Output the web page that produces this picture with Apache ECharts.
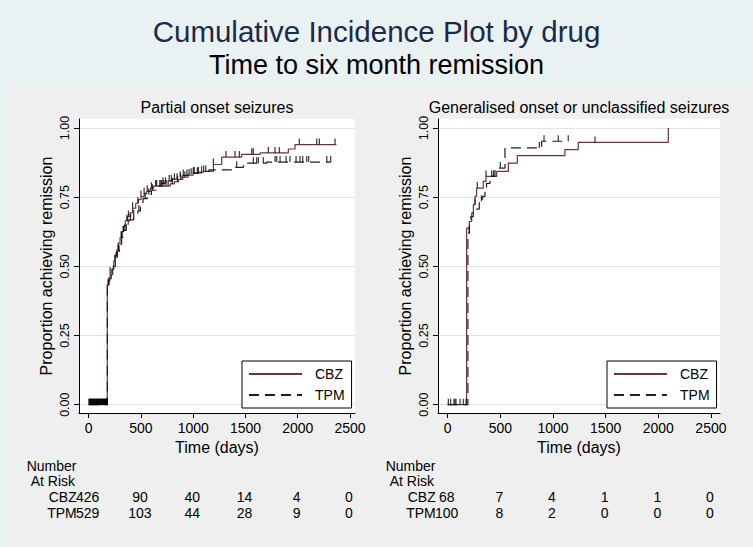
<!DOCTYPE html>
<html><head><meta charset="utf-8">
<script src="https://cdn.jsdelivr.net/npm/echarts@6/dist/echarts.min.js"></script>
<style>html,body{margin:0;padding:0;background:#eaf1f3}#c{width:753px;height:547px}</style>
</head><body><div id="c"></div>
<script>
// ---------------- data ----------------
const mainTitle = 'Cumulative Incidence Plot by drug';
const subTitle = 'Time to six month remission';
const panelTitles = ['Partial onset seizures', 'Generalised onset or unclassified seizures'];
const groups = ['CBZ', 'TPM'];
const xTicks = [0, 500, 1000, 1500, 2000, 2500];
const yTicks = [0, 0.25, 0.5, 0.75, 1];
const xTitle = 'Time (days)';
const yTitle = 'Proportion achieving remission';

// Partial onset seizures: step curves [day, proportion]
const partialCBZ = [[0,0],[178,0],[178,0.434],[195,0.46],[205,0.476],[220,0.49],[240,0.52],[255,0.54],[268,0.56],[285,0.585],[300,0.605],[315,0.625],[332,0.645],[350,0.665],[370,0.68],[395,0.693],[420,0.71],[450,0.728],[475,0.741],[500,0.752],[530,0.762],[555,0.771],[590,0.782],[620,0.79],[780,0.798],[820,0.806],[860,0.814],[900,0.822],[950,0.83],[1000,0.836],[1050,0.84],[1100,0.843],[1193,0.868],[1273,0.895],[1464,0.905],[1640,0.91],[1910,0.924],[1974,0.94],[2370,0.94]];
const partialTPM = [[0,0],[178,0],[178,0.43],[200,0.455],[215,0.47],[235,0.5],[255,0.53],[275,0.555],[295,0.58],[315,0.605],[335,0.63],[360,0.65],[390,0.668],[430,0.682],[470,0.7],[495,0.72],[520,0.745],[560,0.76],[600,0.775],[650,0.79],[700,0.8],[750,0.808],[800,0.815],[850,0.822],[900,0.828],[950,0.833],[1000,0.838],[1080,0.843],[1150,0.849],[1368,0.858],[1480,0.873],[1703,0.877],[2316,0.877]];
const partialCBZCensor = [3,11,19,26,35,42,50,57,66,74,81,90,98,105,113,122,130,137,146,154,161,170,176,185,205,250,280,310,330,365,380,420,470,500,530,560,600,640,680,700,720,740,760,800,850,880,920,960,1000,1040,1080,1120,1193,1314,1400,1441,1560,1575,1719,1783,1824,2015,2182,2207,2357];
const partialTPMCensor = [6,15,23,31,40,48,59,68,77,85,93,101,110,118,127,135,143,151,159,168,175,190,230,262,290,320,345,378,400,430,480,540,575,610,650,690,710,735,770,790,820,845,875,905,940,980,1010,1050,1100,1416,1575,1608,1623,1671,1783,1799,1831,1888,1926,1984,2022,2048,2086,2105,2278,2316];

// Generalised onset or unclassified seizures
const generalCBZ = [[0,0],[180,0],[180,0.638],[206,0.662],[228,0.693],[244,0.723],[260,0.753],[275,0.783],[338,0.807],[364,0.825],[465,0.843],[576,0.873],[661,0.9],[1113,0.922],[1240,0.948],[2095,0.948],[2095,1.0]];
const generalTPM = [[0,0],[192,0],[192,0.62],[206,0.657],[220,0.68],[243,0.707],[300,0.735],[332,0.753],[354,0.777],[369,0.8],[402,0.825],[449,0.855],[544,0.928],[892,0.952],[1145,0.952]];
const generalCBZCensor = [6,60,79,148,259,281,364,1399];
const generalTPMCensor = [28,69,117,174,205,320,418,435,500,870,915,1050,1145];

// Number at risk table
const riskTimes = [0, 500, 1000, 1500, 2000, 2500];
const partialRiskCBZ = [426, 90, 40, 14, 4, 0];
const partialRiskTPM = [529, 103, 44, 28, 9, 0];
const generalRiskCBZ = [68, 7, 4, 1, 1, 0];
const generalRiskTPM = [100, 8, 2, 0, 0, 0];

// ---------------- styles ----------------
const FONT = '"Liberation Sans", Arial, sans-serif';
const CBZ_COLOR = '#74303c';
const TPM_COLOR = '#1b1f2e';

function stepAt(curve, t) {
  let y = 0;
  for (const p of curve) { if (p[0] <= t) y = p[1]; else break; }
  return y;
}
function censorPoints(curve, days) { return days.map(d => [d, stepAt(curve, d)]); }

const grids = [
  {left: 79, top: 119, width: 276, height: 294, xmin: -93, xmax: 2548},
  {left: 438, top: 119, width: 282, height: 294, xmin: -92, xmax: 2586}
];

function makeX(i) {
  const g = grids[i];
  return {
    gridIndex: i, type: 'value', min: g.xmin, max: g.xmax,
    axisLine: {show: true, onZero: false, lineStyle: {color: '#000', width: 1}},
    axisTick: {show: true, length: 5, customValues: xTicks, lineStyle: {color: '#000'}},
    axisLabel: {customValues: xTicks, fontSize: 14, fontFamily: FONT, color: '#000', margin: 8,
      formatter: v => String(v)},
    splitLine: {show: false},
    name: xTitle, nameLocation: 'middle', nameGap: 22,
    nameTextStyle: {fontSize: 16, fontFamily: FONT, color: '#000'}
  };
}
function makeY(i) {
  return {
    gridIndex: i, type: 'value', min: -0.03, max: 1.0325,
    axisLine: {show: true, onZero: false, lineStyle: {color: '#000', width: 1}},
    axisTick: {show: true, length: 5, customValues: yTicks, lineStyle: {color: '#000'}},
    axisLabel: {customValues: yTicks, rotate: 90, fontSize: 12.5, fontFamily: FONT, color: '#000', margin: 8,
      formatter: v => v.toFixed(2)},
    splitLine: {show: true, lineStyle: {color: '#e2e2e2', width: 1}},
    name: yTitle, nameLocation: 'middle', nameGap: 25,
    nameTextStyle: {fontSize: 16, fontFamily: FONT, color: '#000'}
  };
}
function lineSeries(name, data, i, dashed) {
  return {
    type: 'line', name, data, xAxisIndex: i, yAxisIndex: i, step: 'end',
    symbol: 'none', silent: true, z: 3,
    lineStyle: {color: dashed ? TPM_COLOR : CBZ_COLOR, width: 1.2, type: dashed ? [10, 6] : 'solid'},
    itemStyle: {color: dashed ? TPM_COLOR : CBZ_COLOR}
  };
}
function censorSeries(data, i) {
  return {
    type: 'scatter', name: 'censored', data, xAxisIndex: i, yAxisIndex: i,
    symbol: 'rect', symbolSize: [1.2, 6], symbolOffset: [0, -3], silent: true, z: 4,
    itemStyle: {color: '#000'}
  };
}
function makeLegend(left) {
  return {
    data: groups, orient: 'vertical', left, top: 361,
    itemWidth: 53, itemHeight: 14, itemGap: 7,
    padding: [6, 7, 6, 6],
    backgroundColor: '#fff', borderColor: '#000', borderWidth: 1, borderRadius: 0,
    itemStyle: {opacity: 0},
    textStyle: {fontSize: 14, fontFamily: FONT, color: '#000', padding: [0, 0, 0, 8]},
    selectedMode: false
  };
}

const chart = echarts.init(document.getElementById('c'), null, {renderer: 'svg', width: 753, height: 547});
chart.setOption({
  animation: false,
  backgroundColor: '#eaf1f3',
  grid: grids.map(g => ({left: g.left, top: g.top, width: g.width, height: g.height,
    show: true, backgroundColor: '#ffffff', borderWidth: 0, containLabel: false})),
  xAxis: [makeX(0), makeX(1)],
  yAxis: [makeY(0), makeY(1)],
  legend: [makeLegend(242), makeLegend(607)],
  series: [
    lineSeries('CBZ', partialCBZ, 0, false),
    lineSeries('TPM', partialTPM, 0, true),
    censorSeries(censorPoints(partialCBZ, partialCBZCensor), 0),
    censorSeries(censorPoints(partialTPM, partialTPMCensor), 0),
    lineSeries('CBZ', generalCBZ, 1, false),
    lineSeries('TPM', generalTPM, 1, true),
    censorSeries(censorPoints(generalCBZ, generalCBZCensor), 1),
    censorSeries(censorPoints(generalTPM, generalTPMCensor), 1)
  ]
});

// ---------------- texts ----------------
function txt(text, x, y, size, color, align) {
  return {type: 'text', x, y, silent: true, z: 10,
    style: {text, fill: color || '#000', font: size + 'px ' + FONT,
      textAlign: align || 'center', align: align || 'center',
      textVerticalAlign: 'middle', verticalAlign: 'middle'}};
}
const els = [
  {type: 'rect', shape: {x: 8, y: 85, width: 745, height: 462}, style: {fill: '#efefef'}, z: -100, silent: true},
  txt(mainTitle, 376.5, 31, 29.5, '#1c2a4a'),
  txt(subTitle, 376.5, 65, 27, '#000'),
  txt(panelTitles[0], grids[0].left + grids[0].width / 2, 107, 16),
  txt(panelTitles[1], grids[1].left + grids[1].width / 2, 107, 16)
];
const tables = [
  {axis: 0, rows: [['CBZ', partialRiskCBZ], ['TPM', partialRiskTPM]]},
  {axis: 1, rows: [['CBZ', generalRiskCBZ], ['TPM', generalRiskTPM]]}
];
const rowY = [496.5, 513];
tables.forEach(t => {
  const x0 = chart.convertToPixel({xAxisIndex: t.axis}, 0);
  els.push(txt('Number', x0 - 62, 466, 14, '#000', 'left'));
  els.push(txt('At Risk', x0 - 58, 481, 14, '#000', 'left'));
  t.rows.forEach((r, k) => {
    els.push(txt(r[0], x0 - 12, rowY[k], 14, '#000', 'right'));
    riskTimes.forEach((d, j) => {
      const px = chart.convertToPixel({xAxisIndex: t.axis}, d);
      els.push(txt(String(r[1][j]), px - 1, rowY[k], 14, '#000', 'center'));
    });
  });
});
chart.setOption({graphic: els});
</script></body></html>
